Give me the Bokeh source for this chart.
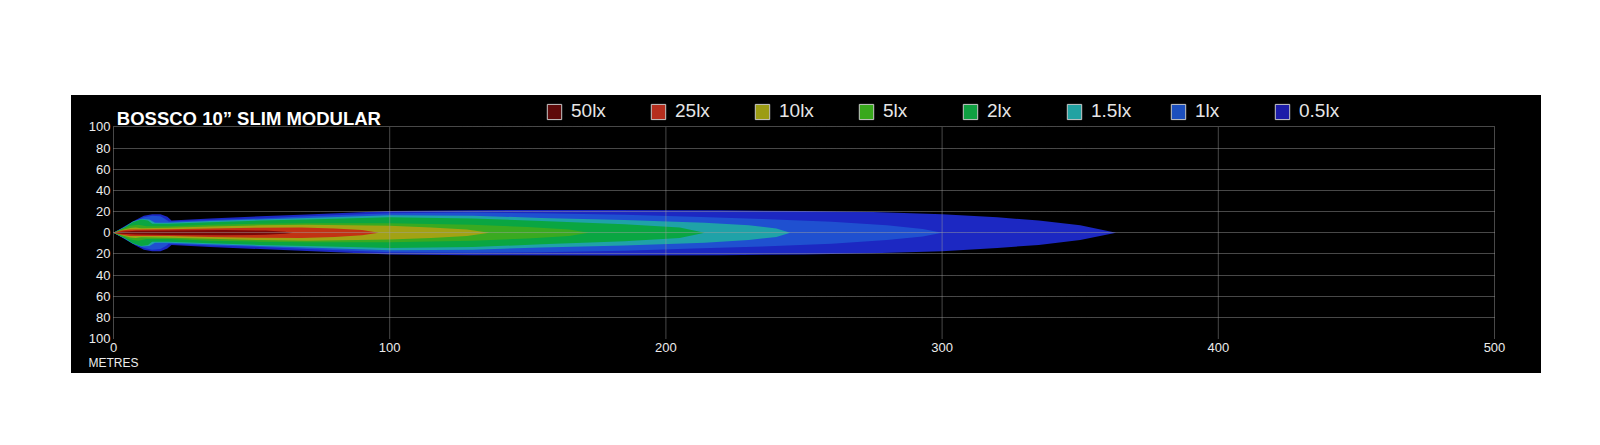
from bokeh.plotting import figure
from bokeh.models import FixedTicker, Label, Legend, LegendItem, ColumnDataSource, LinearAxis
from bokeh.embed import file_html
from bokeh.resources import INLINE

# ---------------- data ----------------
title_text = "BOSSCO 10\u201d SLIM MODULAR"
unit_text = "METRES"
levels = ["50lx", "25lx", "10lx", "5lx", "2lx", "1.5lx", "1lx", "0.5lx"]
legend_colors = ["#5e0a0a", "#b52e1e", "#9c9c14", "#38a81c", "#10a042", "#22a2a2", "#1c4fbe", "#1c1ca8"]
fill_colors = ["#7a0808", "#c23214", "#a2a214", "#3aaa20", "#0aa642", "#1fa2a8", "#1f50d0", "#1c28c2"]

# outline of each isolux zone: distance (m) and half-width (m)
x_50 = [0, 3, 8, 20, 40, 55, 62, 65]
hw_50 = [0, 1.0, 1.8, 2.2, 2.5, 2.0, 1.0, 0]

x_25 = [0, 3, 6, 10, 20, 35, 53, 68, 80, 90, 96]
hw_25 = [0, 2.0, 3.0, 3.0, 3.2, 4.0, 4.8, 5.0, 4.0, 2.5, 0]

x_10 = [0, 3, 6, 8, 10, 20, 35, 53, 70, 100, 115, 128, 136]
hw_10 = [0, 2.5, 4.5, 5.0, 4.2, 4.8, 5.8, 7.0, 7.5, 6.5, 5.0, 3.0, 0]

x_5 = [0, 3, 6, 9, 12, 20, 35, 53, 70, 100, 130, 150, 165, 172]
hw_5 = [0, 3.5, 6.5, 7.5, 6.0, 6.0, 7.5, 8.5, 9.0, 9.0, 7.5, 5.5, 3.0, 0]

x_2 = [0, 4, 7, 10, 12.5, 14, 20, 35, 53, 70, 100, 130, 155, 185, 205, 214]
hw_2 = [0, 5.0, 10.0, 12.5, 11.5, 8.5, 8.5, 10.0, 11.5, 12.5, 14.5, 13.5, 11.0, 8.0, 5.0, 0]

x_15 = [0, 4, 7, 10, 13, 15, 20, 35, 53, 70, 100, 130, 155, 185, 214, 230, 240, 245]
hw_15 = [0, 5.5, 10.5, 13.0, 12.5, 9.5, 9.5, 11.0, 12.5, 14.0, 16.5, 16.0, 14.0, 12.0, 9.5, 7.0, 4.0, 0]

x_1 = [0, 4, 8, 11, 14, 17, 19, 20, 35, 53, 70, 100, 130, 155, 185, 210, 235, 260, 280, 293, 300]
hw_1 = [0, 5.5, 11.0, 14.5, 16.0, 15.5, 12.5, 10.5, 12.0, 13.5, 15.5, 18.5, 19.0, 18.5, 17.0, 15.0, 13.0, 10.4, 7.0, 3.5, 0]

x_05 = [0, 4, 8, 11, 14, 17, 19.5, 21, 35, 53, 70, 100, 130, 180, 220, 250, 275, 300, 320, 335, 350, 363]
hw_05 = [0, 6.0, 12.0, 16.0, 17.5, 17.5, 15.0, 11.5, 13.5, 15.5, 17.3, 20.5, 21.3, 21.5, 21.2, 20.5, 19.5, 17.5, 14.5, 11.5, 7.0, 0]

outlines = {
    "50lx": (x_50, hw_50), "25lx": (x_25, hw_25), "10lx": (x_10, hw_10), "5lx": (x_5, hw_5),
    "2lx": (x_2, hw_2), "1.5lx": (x_15, hw_15), "1lx": (x_1, hw_1), "0.5lx": (x_05, hw_05),
}

x_ticks = [0, 100, 200, 300, 400, 500]
y_ticks = [-100, -80, -60, -40, -20, 0, 20, 40, 60, 80, 100]
y_labels = ["100", "80", "60", "40", "20", "0", "20", "40", "60", "80", "100"]

# ---------------- figure ----------------
FONT = "Liberation Sans"
p = figure(width=1470, height=278, x_range=(0, 500), y_range=(-100, 129.7),
           output_backend="svg", toolbar_location=None,
           min_border_left=42, min_border_right=47, min_border_top=0, min_border_bottom=35)
p.margin = (95, 0, 0, 71)
p.styles = {"background-color": "black"}
p.background_fill_color = "black"
p.border_fill_color = "black"
p.outline_line_color = None

# zones, outermost first
for lvl, col in reversed(list(zip(levels, fill_colors))):
    xs, hw = outlines[lvl]
    px = list(xs) + list(reversed(xs))
    py = list(hw) + [-h for h in reversed(hw)]
    src = ColumnDataSource(dict(xs=[px], ys=[py]))
    p.patches("xs", "ys", source=src, fill_color=col, line_color=None)

# grid: horizontal lines from the y grid, vertical lines limited to the -100..100 band
p.xgrid.visible = False
p.ygrid.ticker = FixedTicker(ticks=y_ticks)
p.ygrid.grid_line_color = "#a0a0a0"
p.ygrid.grid_line_dash = "1 1"
p.ygrid.grid_line_alpha = 0.9
p.ygrid.level = "overlay"
vg = p.segment(x0=x_ticks, y0=y_ticks[0], x1=x_ticks, y1=y_ticks[-1],
               line_color="#a0a0a0", line_dash="1 1", line_alpha=0.9, line_width=1)
vg.level = "overlay"

# axes
p.xaxis.ticker = FixedTicker(ticks=x_ticks)
p.yaxis.ticker = FixedTicker(ticks=y_ticks)
p.yaxis.major_label_overrides = {t: l for t, l in zip(y_ticks, y_labels)}
unit_axis = LinearAxis(ticker=FixedTicker(ticks=[x_ticks[0]]),
                       major_label_overrides={x_ticks[0]: unit_text})
p.add_layout(unit_axis, "below")
for ax in (p.xaxis + p.yaxis):
    ax.axis_line_color = None
    ax.major_tick_line_color = None
    ax.minor_tick_line_color = None
    ax.major_tick_out = 0
    ax.major_tick_in = 0
    ax.minor_tick_out = 0
    ax.minor_tick_in = 0
    ax.major_label_text_color = "#ececec"
    ax.major_label_text_font = FONT
    ax.major_label_text_font_size = "13px"
p.yaxis.major_label_standoff = 3
p.xaxis[0].major_label_standoff = 4
unit_axis.major_label_standoff = 1
unit_axis.major_label_text_font_size = "12px"

# title
p.add_layout(Label(x=1.2, y=107.7, text=title_text, text_color="white", text_font=FONT,
                   text_font_style="bold", text_font_size="18.5px", text_baseline="alphabetic"))

# legend (hidden proxy renderers carry the swatch style)
items = []
for lvl, col in zip(levels, legend_colors):
    r = p.rect(x=[x_ticks[0]], y=[0], width=1, height=1, fill_color=col,
               line_color="#c8c8c8", line_width=1, visible=False)
    items.append(LegendItem(label=lvl, renderers=[r]))
leg = Legend(items=items, orientation="horizontal", location=(432, 216),
             glyph_width=18, glyph_height=19, label_standoff=8, label_width=78, spacing=0,
             padding=0, margin=0, background_fill_alpha=0, border_line_color=None,
             inactive_fill_alpha=0, click_policy="none",
             label_text_color="#e6e6e6", label_text_font=FONT, label_text_font_size="19px")
p.add_layout(leg, "center")

open("out.html", "w").write(file_html(p, INLINE))
